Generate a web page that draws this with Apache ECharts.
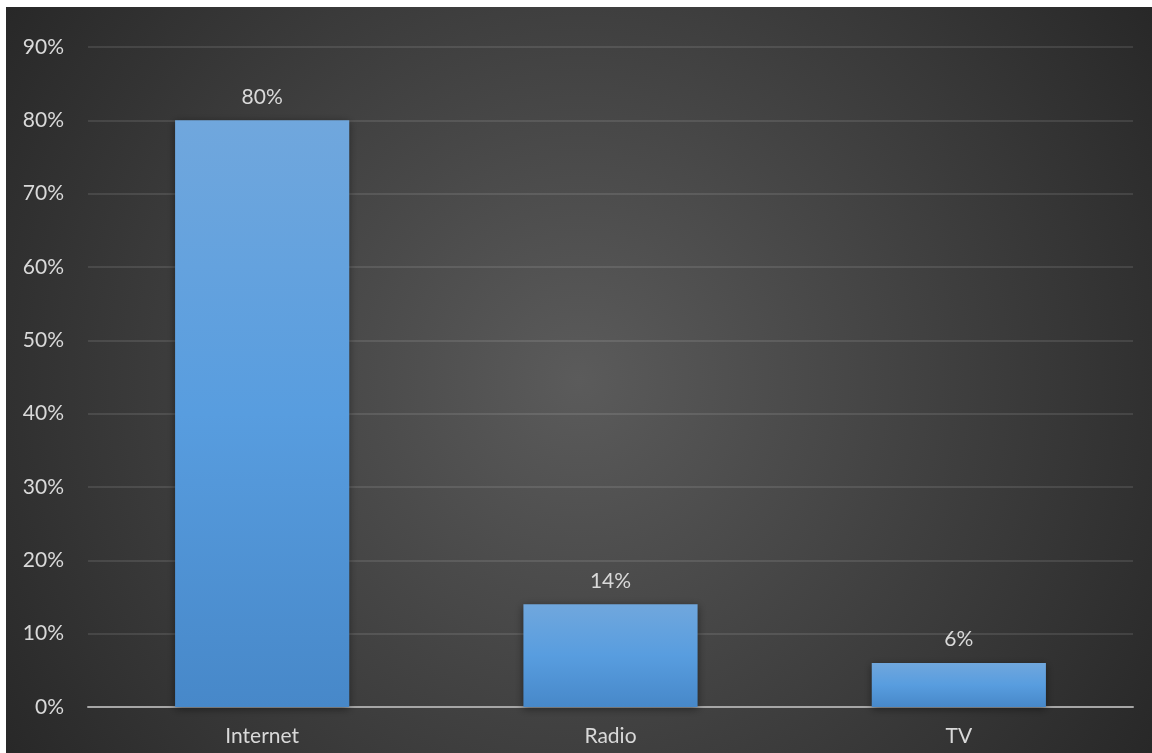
<!DOCTYPE html>
<html>
<head>
<meta charset="utf-8">
<script src="https://cdn.jsdelivr.net/npm/echarts@6/dist/echarts.min.js"></script>
<style>
html,body{margin:0;padding:0;background:#fff;}
#c{width:1152px;height:753px;}
</style>
</head>
<body>
<div id="c"></div>
<script>
const categories = ['Internet', 'Radio', 'TV'];
const values = [80, 14, 6];
const yMin = 0, yMax = 90, yStep = 10;

const chart = echarts.init(document.getElementById('c'), null, {renderer: 'canvas'});
const font = 'Lato, "Open Sans", "Liberation Sans", sans-serif';
chart.setOption({
  animation: false,
  backgroundColor: '#ffffff',
  graphic: [{
    type: 'rect', z: -10, silent: true,
    shape: {x: 6, y: 7, width: 1146, height: 746},
    style: {
      fill: {
        type: 'radial', x: 0.5, y: 0.5, r: 0.95,
        colorStops: [
          {offset: 0, color: '#5b5b5b'},
          {offset: 1, color: '#262626'}
        ]
      }
    }
  }],
  grid: {left: 88, right: 19, top: 47, bottom: 46},
  xAxis: {
    type: 'category',
    data: categories,
    axisLine: {lineStyle: {color: '#a6a6a6', width: 2}},
    axisTick: {show: false},
    axisLabel: {color: '#d9d9d9', fontSize: 21, fontFamily: font, margin: 19}
  },
  yAxis: {
    type: 'value',
    min: yMin, max: yMax, interval: yStep,
    axisLine: {show: false},
    axisTick: {show: false},
    axisLabel: {color: '#d9d9d9', fontSize: 21, fontFamily: font, margin: 24, formatter: '{value}%'},
    splitLine: {lineStyle: {color: 'rgba(255,255,255,0.1)', width: 2}}
  },
  series: [{
    type: 'bar',
    data: values,
    barWidth: '50%',
    itemStyle: {
      color: {
        type: 'linear', x: 0, y: 0, x2: 0, y2: 1,
        colorStops: [
          {offset: 0, color: '#70a7dd'},
          {offset: 0.5, color: '#589ddf'},
          {offset: 1, color: '#4788c9'}
        ]
      },
      shadowColor: 'rgba(0,0,0,0.45)',
      shadowBlur: 8,
      shadowOffsetY: 2
    },
    label: {
      show: true, position: 'top', distance: 13,
      color: '#d9d9d9', fontSize: 21, fontFamily: font,
      formatter: '{c}%'
    }
  }]
});
</script>
</body>
</html>
